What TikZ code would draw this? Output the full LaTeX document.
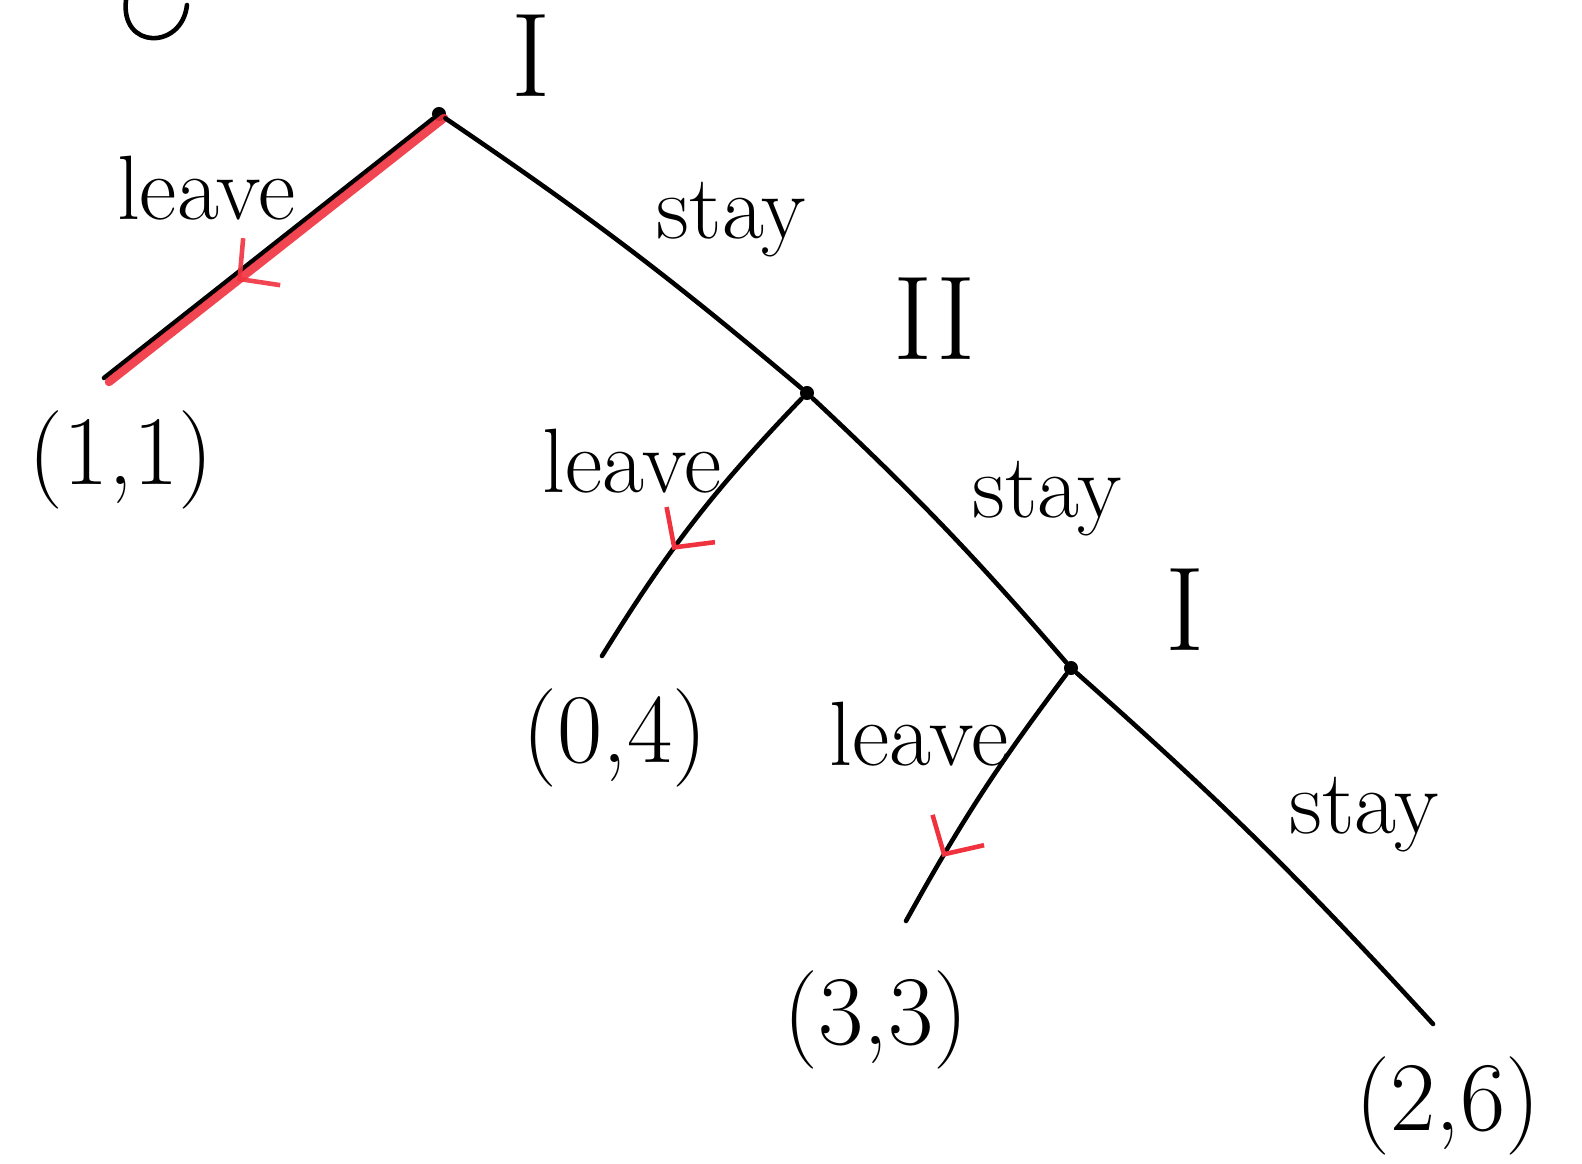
\documentclass[tikz,border=0pt]{standalone}
\usetikzlibrary{arrows.meta, positioning, decorations.markings}
\definecolor{pen}{HTML}{F0323E}

\begin{document}
\begin{tikzpicture}[
  x=0.01cm, y=-0.01cm,
  node distance=0.2cm and 0.2cm,
  edge/.style={line width=1.3pt, line cap=round, line join=round},
  dec/.style={circle, fill=black, inner sep=0pt, minimum size=4pt},
  act/.style={font=\fontsize{26}{30}\selectfont},
  leavelbl/.style={act, shift={(-62,-60)}},
  staylbl/.style={act, shift={(104,-28)}},
  pay/.style={font=\fontsize{28}{32}\selectfont},
  plyr/.style={font=\fontsize{34}{38}\selectfont},
  hilite/.style={pen, line width=2.4pt, line cap=round, opacity=0.9},
  chev/.style={postaction={decorate, decoration={markings,
    mark=at position #1 with {\arrow[pen, line width=1.3pt]{Straight Barb[length=8pt, width=17pt]}}}}}
]
  \useasboundingbox (0,0) rectangle (1582,1164);

  % decision nodes and terminal points
  \node[dec] (p1) at (439,114) {};
  \node[dec] (p2) at (807,393) {};
  \node[dec] (p3) at (1071,668) {};
  \coordinate (t1) at (104,378);
  \coordinate (t2) at (602,656);
  \coordinate (t3) at (906,921);
  \coordinate (t4) at (1433,1024);

  % players
  \node[plyr, above right=0cm and 0.55cm of p1] (n1) {I};
  \node[plyr, above right=0.16cm and 0.69cm of p2] (n2) {II};
  \node[plyr, above right=0cm and 0.77cm of p3] (n3) {I};

  % branches
  \draw[edge] (p1) -- node[leavelbl] {leave} (t1);
  \draw[hilite, chev=0.62] ([shift={(5,4)}]p1.center) -- ([shift={(5,4)}]t1);
  \draw[edge] (p1) to[bend left=3] node[staylbl] {stay} (p2);
  \draw[edge, chev=0.61] (p2) to[bend right=6] node[leavelbl] {leave} (t2);
  \draw[edge] (p2) to[bend left=3] node[staylbl] {stay} (p3);
  \draw[edge, chev=0.75] (p3) to[bend right=4] node[leavelbl] {leave} (t3);
  \draw[edge] (p3) to[bend left=3] node[staylbl] {stay} (t4);

  % payoffs
  \node[pay, below=0.2cm of t1, xshift=0.17cm] (u1) {(1,1)};
  \node[pay, below=0.2cm of t2, xshift=0.13cm] (u2) {(0,4)};
  \node[pay, below=0.37cm of t3, xshift=-0.3cm] (u3) {(3,3)};
  \node[pay, below=0.2cm of t4, xshift=0.15cm] (u4) {(2,6)};

  % cut-off letter at the top
  \draw[edge] (126,0) .. controls (120,50) and (182,50) .. (187,5);
\end{tikzpicture}
\end{document}
